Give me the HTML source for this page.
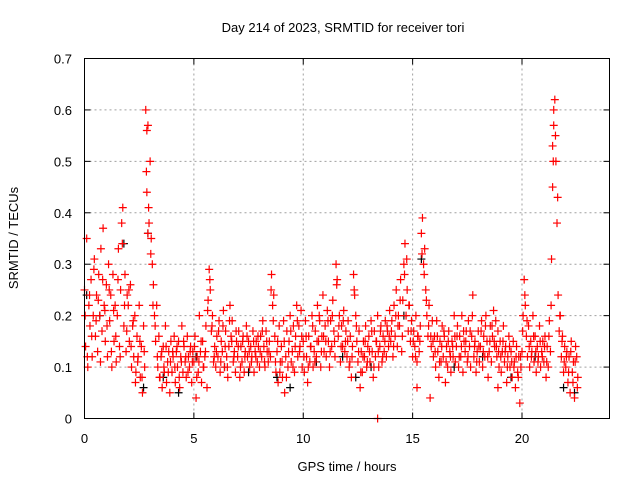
<!DOCTYPE html>
<html><head><meta charset="utf-8"><style>
body{margin:0;background:#fff}
svg{display:block;font-family:"Liberation Sans",sans-serif}
</style></head><body>
<svg id="c" width="640" height="480">
<text x="343" y="32" font-size="13" text-anchor="middle">Day 214 of 2023, SRMTID for receiver tori</text>
<text x="347" y="471" font-size="13" text-anchor="middle">GPS time / hours</text>
<text transform="translate(18,238) rotate(-90)" font-size="13" text-anchor="middle">SRMTID / TECUs</text>
<g id="grid"></g><g id="ticks"></g><g id="pts"></g>
<rect x="84.5" y="58.5" width="525" height="360" fill="none" stroke="#000"/>
</svg>
<script>
const xTicks=[0,5,10,15,20];
const yTicks=[0,0.1,0.2,0.3,0.4,0.5,0.6,0.7];
const yTickLabels=["0","0.1","0.2","0.3","0.4","0.5","0.6","0.7"];
const redA=[
0.25,0.14,0.35,0.1,0.22,0.18,0.27,0.12,0.2,0.31,0.16,0.24,0.13,0.28,0.2,0.33,0.17,0.37,0.22,0.15,
0.26,0.12,0.3,0.19,0.24,0.1,0.28,0.15,0.22,0.11,0.2,0.33,0.14,0.25,0.38,0.41,0.18,0.28,0.13,0.24,
0.22,0.15,0.26,0.1,0.18,0.12,0.2,0.09,0.16,0.12,0.22,0.08,0.14,0.05,0.18,0.1,0.6,0.44,0.57,0.38,
0.5,0.35,0.3,0.26,0.2,0.15,0.22,0.1,0.16,0.08,0.12,0.06,0.14,0.09,0.18,0.07,0.11,0.13,0.05,0.15,
0.09,0.12,0.16,0.07,0.13,0.1,0.15,0.06,0.12,0.18,0.09,0.14,0.11,0.08,0.16,0.12,0.1,0.14,0.07,0.13,
0.11,0.16,0.04,0.12,0.09,0.2,0.13,0.07,0.15,0.1,0.12,0.18,0.06,0.23,0.29,0.25,0.17,0.2,0.11,0.14,
0.1,0.16,0.12,0.19,0.09,0.15,0.13,0.21,0.1,0.17,0.12,0.08,0.14,0.22,0.16,0.19,0.11,0.13,0.09,0.15,
0.12,0.17,0.08,0.14,0.11,0.16,0.09,0.13,0.18,0.12,0.15,0.1,0.14,0.12,0.17,0.09,0.13,0.15,0.11,0.14,
0.1,0.16,0.12,0.19,0.14,0.1,0.17,0.13,0.11,0.15,0.12,0.28,0.22,0.24,0.16,0.09,0.13,0.07,0.18,0.11,
0.14,0.08,0.19,0.05,0.12,0.17,0.1,0.15,0.2,0.11,0.13,0.18,0.09,0.16,0.22,0.12,0.18,0.14,0.21,0.1,
0.15,0.09,0.19,0.12,0.07,0.16,0.11,0.14,0.2,0.1,0.13,0.17,0.12,0.22,0.15,0.19,0.1,0.16,0.24,0.13,
0.18,0.12,0.21,0.15,0.1,0.19,0.14,0.23,0.17,0.12,0.3,0.27,0.16,0.2,0.11,0.18,0.14,0.21,0.13,0.17,
0.12,0.19,0.1,0.16,0.08,0.14,0.28,0.24,0.2,0.15,0.11,0.17,0.06,0.13,0.09,0.15,0.12,0.18,0.1,0.14,
0.16,0.11,0.19,0.13,0.08,0.17,0.12,0.15,0.2,0.1,0.14,0.18,0.11,0.16,0.13,0.19,0.12,0.17,0.14,0.21,
0.15,0.19,0.12,0.22,0.16,0.25,0.14,0.2,0.18,0.27,0.13,0.23,0.3,0.34,0.2,0.25,0.17,0.22,0.15,0.19,
0.12,0.17,0.14,0.2,0.11,0.16,0.13,0.18,0.36,0.39,0.3,0.33,0.25,0.2,0.16,0.22,0.04,0.14,0.19,0.12,
0.16,0.1,0.19,0.13,0.08,0.15,0.11,0.18,0.12,0.16,0.07,0.14,0.1,0.17,0.13,0.09,0.15,0.12,0.2,0.11,
0.14,0.18,0.1,0.16,0.12,0.2,0.09,0.15,0.13,0.17,0.11,0.19,0.14,0.1,0.16,0.24,0.12,0.15,0.09,0.13,
0.17,0.11,0.14,0.19,0.1,0.16,0.12,0.2,0.15,0.08,0.13,0.18,0.11,0.16,0.21,0.14,0.19,0.12,0.17,0.1,
0.15,0.09,0.13,0.18,0.11,0.14,0.07,0.12,0.16,0.1,0.13,0.08,0.15,0.11,0.06,0.14,0.09,0.12,0.03,0.1,
0.13,0.2,0.27,0.22,0.16,0.12,0.18,0.1,0.15,0.13,0.2,0.11,0.16,0.09,0.14,0.12,0.18,0.1,0.13,0.15,
0.11,0.16,0.08,0.14,0.1,0.19,0.13,0.31,0.45,0.57,0.62,0.5,0.38,0.24,0.17,0.2,0.12,0.16,0.09,0.14,
0.1,0.13,0.07,0.12,0.05,0.15,0.09,0.11,0.04,0.14,0.12,0.08];
const redB=[
0.2,0.12,0.24,0.16,0.29,0.19,0.23,0.11,0.27,0.21,
0.18,0.25,0.13,0.21,0.16,0.27,0.12,0.34,0.22,0.17,
0.25,0.14,0.19,0.07,0.11,0.15,0.08,0.13,0.48,0.41,
0.32,0.22,0.18,0.12,0.08,0.13,0.1,0.14,0.09,0.11,
0.13,0.1,0.14,0.08,0.11,0.15,0.12,0.09,0.13,0.11,
0.14,0.08,0.11,0.15,0.1,0.13,0.21,0.27,0.18,0.12,
0.13,0.17,0.11,0.18,0.14,0.1,0.19,0.15,0.12,0.17,
0.14,0.1,0.15,0.12,0.16,0.13,0.11,0.15,0.12,0.16,
0.13,0.17,0.11,0.15,0.13,0.25,0.19,0.11,0.15,0.09,
0.11,0.15,0.08,0.13,0.17,0.1,0.14,0.19,0.13,0.16,
0.12,0.16,0.1,0.14,0.18,0.11,0.15,0.2,0.13,0.16,
0.15,0.19,0.13,0.2,0.15,0.26,0.18,0.14,0.19,0.15,
0.15,0.11,0.12,0.25,0.18,0.13,0.09,0.12,0.15,0.11,
0.13,0.17,0.1,0.15,0.13,0.17,0.12,0.15,0.18,0.16,
0.17,0.14,0.2,0.18,0.23,0.16,0.28,0.31,0.22,0.17,
0.15,0.12,0.16,0.15,0.32,0.28,0.23,0.18,0.16,0.15,
0.13,0.16,0.11,0.14,0.17,0.11,0.15,0.12,0.14,0.16,
0.16,0.12,0.14,0.17,0.15,0.12,0.17,0.2,0.14,0.11,
0.14,0.17,0.13,0.18,0.12,0.15,0.18,0.15,0.14,0.13,
0.12,0.15,0.13,0.1,0.14,0.11,0.1,0.12,0.08,0.12,
0.17,0.24,0.19,0.14,0.12,0.16,0.13,0.11,0.15,0.12,
0.14,0.11,0.16,0.22,0.5,0.55,0.43,0.2,0.15,0.11,
0.12,0.09,0.13,0.07,0.11,0.06];
const extraTimes=[13.4,15.2,18.9,21.45,21.4,2.85,2.9];
const extraValues=[0.0,0.06,0.06,0.6,0.53,0.56,0.36];
const blackTimes=[0.1,0.7,1.8,2.7,2.9,3.6,4.3,5.1,6.4,7.5,8.8,9.4,10.6,11.8,12.4,13.1,14.6,15.4,16.9,18.2,19.5,20.6,21.9,22.4];
const blackValues=[0.24,0.2,0.34,0.06,0.36,0.08,0.05,0.12,0.1,0.09,0.08,0.06,0.11,0.12,0.08,0.1,0.2,0.31,0.1,0.12,0.08,0.12,0.06,0.05];
const X0=84.5,X1=609.5,Y0=418.5,Y1=58.5;
const sx=t=>X0+(t/24)*(X1-X0);
const sy=v=>Y0-(v/0.7)*(Y0-Y1);
const NS="http://www.w3.org/2000/svg";
const grid=document.getElementById('grid'),ticks=document.getElementById('ticks'),pts=document.getElementById('pts');
function mk(tag,attrs,parent){const e=document.createElementNS(NS,tag);for(const k in attrs)e.setAttribute(k,attrs[k]);parent.appendChild(e);return e;}
xTicks.forEach(t=>{
 const x=sx(t);
 if(t>0){const g=mk('line',{x1:x,x2:x,y1:Y1,y2:Y0,stroke:'#a0a0a0','stroke-dasharray':'2,3'},grid);
 
 }
 mk('line',{x1:x,x2:x,y1:Y0,y2:Y0-6,stroke:'#000'},ticks);
 mk('line',{x1:x,x2:x,y1:Y1,y2:Y1+6,stroke:'#000'},ticks);
 const l=mk('text',{x:x,y:443,'font-size':13,'text-anchor':'middle'},ticks);l.textContent=t;
 
 
});
yTicks.forEach((v,i)=>{
 const y=sy(v);
 if(v>0&&v<0.7){const g=mk('line',{x1:X0,x2:X1,y1:y,y2:y,stroke:'#a0a0a0','stroke-dasharray':'2,3'},grid);
 
 }
 mk('line',{x1:X0,x2:X0+6,y1:y,y2:y,stroke:'#000'},ticks);
 mk('line',{x1:X1,x2:X1-6,y1:y,y2:y,stroke:'#000'},ticks);
 const l=mk('text',{x:72,y:y+5,'font-size':13,'text-anchor':'end'},ticks);l.textContent=yTickLabels[i];
 
 
});
function cross(t,v,col){
 const x=sx(t),y=sy(v);
 const p=mk('path',{d:`M${x-4},${y}H${x+4}M${x},${y-4}V${y+4}`,stroke:col,'stroke-width':1.2,fill:'none'},pts);
 
 
}
blackTimes.forEach((t,i)=>cross(t,blackValues[i],'#000'));
redA.forEach((v,i)=>cross(i*0.05,v,'#f00'));
redB.forEach((v,i)=>cross(i*0.1+0.03,v,'#f00'));
extraTimes.forEach((t,i)=>cross(t,extraValues[i],'#f00'));
</script>
</body></html>
